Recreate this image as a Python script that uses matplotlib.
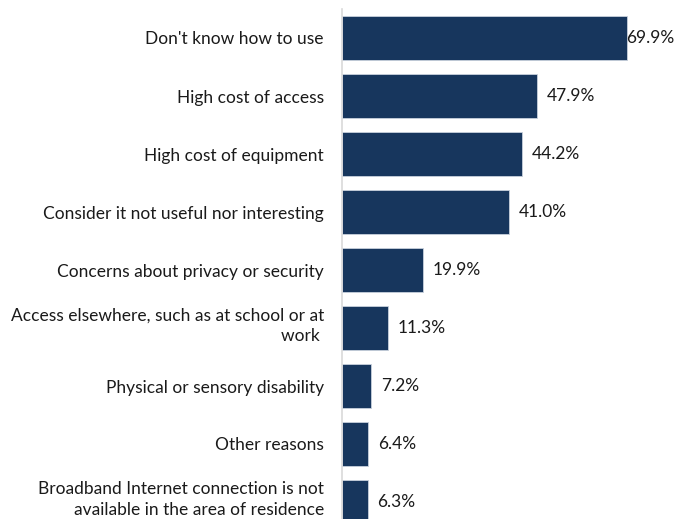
import matplotlib
matplotlib.use("Agg")
import matplotlib.pyplot as plt
import matplotlib.transforms as mtransforms

categories = [
    "Don't know how to use",
    "High cost of access",
    "High cost of equipment",
    "Consider it not useful nor interesting",
    "Concerns about privacy or security",
    "Access elsewhere, such as at school or at\nwork ",
    "Physical or sensory disability",
    "Other reasons",
    "Broadband Internet connection is not\navailable in the area of residence",
]
values = [69.9, 47.9, 44.2, 41.0, 19.9, 11.3, 7.2, 6.4, 6.3]
value_labels = ["69.9%", "47.9%", "44.2%", "41.0%", "19.9%", "11.3%", "7.2%", "6.4%", "6.3%"]

plt.rcParams['font.family'] = ['Lato', 'DejaVu Sans']
W, H = 677, 519
fig = plt.figure(figsize=(W / 100, H / 100), dpi=100)
ax = fig.add_axes([342 / W, 1 - 531 / H, (W - 342) / W, 522 / H])

bar_color = "#17365D"
pos = list(range(len(categories)))
ax.barh(pos, values, height=0.76, color=bar_color, edgecolor="#c8d0dc", linewidth=0.6)
xmax = 82.2
ax.set_xlim(0, xmax)
ax.set_ylim(len(categories) - 0.5, -0.5)

ax.set_yticks(pos)
ax.set_yticklabels(categories, fontsize=12.5, color="#1a1a1a", linespacing=1.38)
ax.tick_params(axis="y", length=0, pad=13)
ax.set_xticks([])
for t in ax.get_yticklabels():
    if "\n" in t.get_text():
        t.set_transform(t.get_transform() +
                        mtransforms.ScaledTranslation(0, 6 / 100, fig.dpi_scale_trans))

for s in ["top", "right", "bottom"]:
    ax.spines[s].set_visible(False)
ax.spines["left"].set_color("#d9d9d9")
ax.spines["left"].set_linewidth(1.2)

for p, v, lab in zip(pos, values, value_labels):
    if v > 65:
        ax.annotate(lab, (xmax, p), xytext=(-2, 0), textcoords="offset points",
                    ha="right", va="center", fontsize=12.5, color="#1a1a1a")
    else:
        ax.annotate(lab, (v, p), xytext=(7, 0), textcoords="offset points",
                    ha="left", va="center", fontsize=12.5, color="#1a1a1a")

fig.savefig("out.png", dpi=100)
